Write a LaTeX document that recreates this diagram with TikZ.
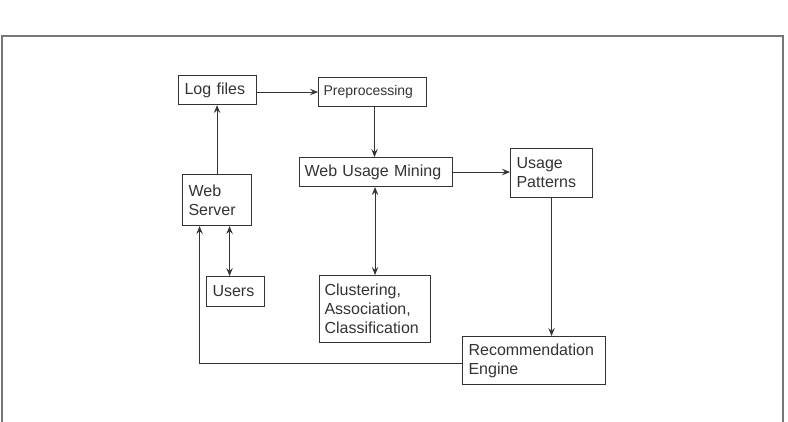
\documentclass[tikz,border=0pt]{standalone}
\usepackage{fontspec}
\setmainfont{Liberation Sans}
\usetikzlibrary{arrows.meta}

\definecolor{ink}{HTML}{333333}
\definecolor{rim}{HTML}{777777}

\tikzset{
    box/.style={draw=ink, text=ink, line width=1.1pt, anchor=north west, align=left,
        inner xsep=6pt, inner ysep=0pt, font=\fontsize{16}{19}\selectfont},
    arr/.style={draw=ink, line width=1pt, -{Stealth[length=8pt,width=6.5pt,inset=3pt]}},
    darr/.style={draw=ink, line width=1pt, {Stealth[length=8pt,width=6.5pt,inset=3pt]}-{Stealth[length=8pt,width=6.5pt,inset=3pt]}}
}

\begin{document}
\begin{tikzpicture}[x=1pt,y=-1pt]
    \useasboundingbox (0,0) rectangle (788,422);
    \draw[rim, line width=1.2pt] (2,422) -- (2,36) -- (783,36) -- (783,422);

    \node[box, text width=66pt, minimum height=29pt] (logf) at (178,75) {Log files};
    \node[box, text width=98pt, minimum height=29pt, inner xsep=5pt, font=\fontsize{14}{17}\selectfont] (prep) at (318,77) {Preprocessing};
    \node[box, text width=143pt, minimum height=29pt, inner xsep=5pt] (wum) at (299,157) {Web Usage Mining};
    \node[box, text width=57pt, minimum height=51pt] (webs) at (182,174) {Web\\Server};
    \node[box, text width=70pt, minimum height=49pt] (up) at (510,148) {Usage\\Patterns};
    \node[box, text width=101pt, minimum height=67pt, inner xsep=5pt] (clus) at (319,275) {Clustering,\\Association,\\Classification};
    \node[box, text width=46pt, minimum height=30pt] (users) at (206,276) {Users};
    \node[box, text width=131pt, minimum height=48pt] (rec) at (462,336) {Recommendation\\Engine};

    \draw[arr] (logf.east |- prep.west) -- (prep.west);
    \draw[arr] ([xshift=2pt]prep.south) -- ([xshift=2pt]prep.south |- wum.north);
    \draw[arr] (webs.north) -- (webs.north |- logf.south);
    \draw[arr] (wum.east) -- (wum.east -| up.west);
    \draw[darr] (clus.north) -- (clus.north |- wum.south);
    \draw[darr] ([xshift=12.5pt]webs.south) -- ([xshift=12.5pt]webs.south |- users.north);
    \draw[arr] (up.south) -- (up.south |- rec.north);
    \draw[arr] ([yshift=-2.5pt]rec.west) -| ([xshift=-17.5pt]webs.south);
\end{tikzpicture}
\end{document}
